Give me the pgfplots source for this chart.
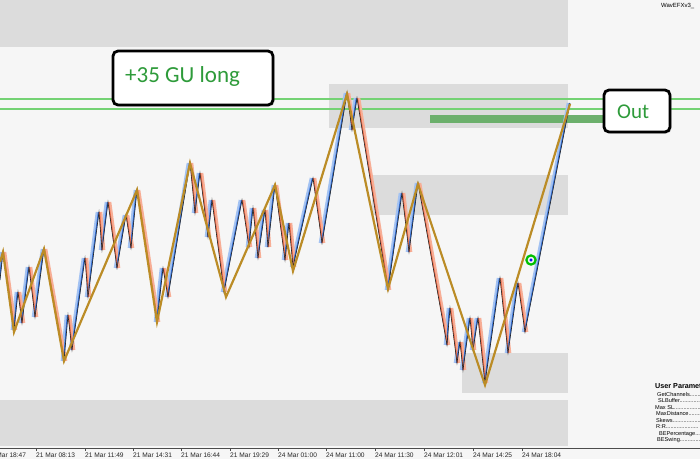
\documentclass[border=0pt]{standalone}
\usepackage{pgfplots}
\pgfplotsset{compat=1.18}
\usepackage{pgfplotstable}
\usepackage{fontspec}
\setmainfont{Liberation Sans}
\newfontfamily\calib{Carlito}
\usetikzlibrary{shadows}
\definecolor{bgc}{HTML}{F6F6F6}
\definecolor{boxc}{HTML}{DCDCDC}
\definecolor{lvlgreen}{HTML}{74D274}
\definecolor{gbar}{HTML}{6CB06C}
\definecolor{goldc}{HTML}{BB8C26}
\definecolor{bluec}{HTML}{3470D8}
\definecolor{lblue}{HTML}{A3C2F2}
\definecolor{redc}{HTML}{F0704E}
\definecolor{lred}{HTML}{F7AE96}
\definecolor{txtg}{HTML}{2E9B3A}

\pgfplotstableread[row sep=\\]{x y\\
0 280\\ 3 252\\ 3 inf\\ 14 330\\ 18 292\\ 18 inf\\ 22 323\\ 29 267\\ 29 inf\\
35 317\\ 44 249\\ 44 inf\\ 64 361\\ 68 315\\ 68 inf\\ 72 350\\ 85 258\\ 85 inf\\
88 297\\ 99 212\\ 99 inf\\ 102 250\\ 108 202\\ 108 inf\\ 117 268\\ 126 215\\ 126 inf\\
131 248\\ 137 190\\ 137 inf\\ 157 322\\ 163 268\\ 163 inf\\ 168 297\\ 190 163\\ 190 inf\\
195 213\\ 200 173\\ 200 inf\\ 208 237\\ 212 200\\ 212 inf\\ 224 292\\ 242 200\\ 242 inf\\
249 247\\ 253 208\\ 253 inf\\ 258 258\\ 265 210\\ 265 inf\\ 268 247\\ 275 185\\ 275 inf\\
285 260\\ 289 223\\ 289 inf\\ 293 267\\ 313 178\\ 313 inf\\ 322 243\\ 347 93\\ 347 inf\\
352 130\\ 357 98\\ 357 inf\\ 388 290\\ 402 193\\ 402 inf\\ 409 252\\ 418 183\\ 418 inf\\
447 345\\ 450 308\\ 450 inf\\ 457 363\\ 460 342\\ 460 inf\\ 463 370\\ 470 318\\ 470 inf\\
473 350\\ 478 318\\ 478 inf\\ 485 383\\ 500 278\\ 500 inf\\ 508 353\\ 518 283\\ 518 inf\\
525 332\\ 570 103\\
}\uptab

\pgfplotstableread[row sep=\\]{x y\\
3 252\\ 14 330\\ 14 inf\\ 18 292\\ 22 323\\ 22 inf\\ 29 267\\ 35 317\\ 35 inf\\
44 249\\ 64 361\\ 64 inf\\ 68 315\\ 72 350\\ 72 inf\\ 85 258\\ 88 297\\ 88 inf\\
99 212\\ 102 250\\ 102 inf\\ 108 202\\ 117 268\\ 117 inf\\ 126 215\\ 131 248\\ 131 inf\\
137 190\\ 157 322\\ 157 inf\\ 163 268\\ 168 297\\ 168 inf\\ 190 163\\ 195 213\\ 195 inf\\
200 173\\ 208 237\\ 208 inf\\ 212 200\\ 224 292\\ 224 inf\\ 242 200\\ 249 247\\ 249 inf\\
253 208\\ 258 258\\ 258 inf\\ 265 210\\ 268 247\\ 268 inf\\ 275 185\\ 285 260\\ 285 inf\\
289 223\\ 293 267\\ 293 inf\\ 313 178\\ 322 243\\ 322 inf\\ 347 93\\ 352 130\\ 352 inf\\
357 98\\ 388 290\\ 388 inf\\ 402 193\\ 409 252\\ 409 inf\\ 418 183\\ 447 345\\ 447 inf\\
450 308\\ 457 363\\ 457 inf\\ 460 342\\ 463 370\\ 463 inf\\ 470 318\\ 473 350\\ 473 inf\\
478 318\\ 485 383\\ 485 inf\\ 500 278\\ 508 353\\ 508 inf\\ 518 283\\ 525 332\\
}\dntab

\pgfplotstableread[row sep=\\]{x y\\
0 280\\ 3 252\\ 14 330\\ 18 292\\ 22 323\\ 29 267\\ 35 317\\ 44 249\\ 64 361\\ 68 315\\
72 350\\ 85 258\\ 88 297\\ 99 212\\ 102 250\\ 108 202\\ 117 268\\ 126 215\\ 131 248\\
137 190\\ 157 322\\ 163 268\\ 168 297\\ 190 163\\ 195 213\\ 200 173\\ 208 237\\ 212 200\\
224 292\\ 242 200\\ 249 247\\ 253 208\\ 258 258\\ 265 210\\ 268 247\\ 275 185\\ 285 260\\
289 223\\ 293 267\\ 313 178\\ 322 243\\ 347 93\\ 352 130\\ 357 98\\ 388 290\\ 402 193\\
409 252\\ 418 183\\ 447 345\\ 450 308\\ 457 363\\ 460 342\\ 463 370\\ 470 318\\ 473 350\\
478 318\\ 485 383\\ 500 278\\ 508 353\\ 518 283\\ 525 332\\ 570 103\\
}\fintab

\pgfplotstableread[row sep=\\]{x y\\
0 262\\ 3 252\\ 14 332\\ 44 249\\ 64 361\\ 137 190\\ 157 322\\ 190 163\\ 226 297\\
275 185\\ 293 271\\ 347 94\\ 388 289\\ 418 184\\ 485 385\\ 570 104\\
}\goldtab

\begin{document}
\begin{tikzpicture}
\begin{axis}[scale only axis, width=700pt, height=459pt,
  xmin=0, xmax=700, ymin=0, ymax=459, y dir=reverse,
  hide axis, unbounded coords=jump, clip=true]
% background
\addplot[fill=bgc, draw=none] coordinates {(0,0)(700,0)(700,459)(0,459)} -- cycle;
% gray zones
\addplot[fill=boxc, draw=none] coordinates {(0,0)(568,0)(568,47)(0,47)} -- cycle;
\addplot[fill=boxc, draw=none] coordinates {(329,84)(568,84)(568,128)(329,128)} -- cycle;
\addplot[fill=boxc, draw=none] coordinates {(372,175)(568,175)(568,215)(372,215)} -- cycle;
\addplot[fill=boxc, draw=none] coordinates {(462,353)(568,353)(568,393)(462,393)} -- cycle;
\addplot[fill=boxc, draw=none] coordinates {(0,400)(568,400)(568,446)(0,446)} -- cycle;
% green levels
\addplot[draw=lvlgreen, line width=1.1pt] coordinates {(0,99)(700,99)};
\addplot[draw=lvlgreen, line width=1.1pt] coordinates {(0,109)(700,109)};
\addplot[fill=gbar, draw=none] coordinates {(430,115)(605,115)(605,123)(430,123)} -- cycle;
% swings
\addplot[lblue, line width=3pt, xshift=-1.8pt] table[x=x,y=y] {\uptab};
\addplot[lred, line width=3pt, xshift=1.8pt] table[x=x,y=y] {\dntab};
\addplot[bluec, line width=1.3pt, xshift=-0.5pt] table[x=x,y=y] {\uptab};
\addplot[redc, line width=1.3pt, xshift=0.5pt] table[x=x,y=y] {\dntab};
\addplot[black!85, line width=0.6pt] table[x=x,y=y] {\fintab};
\addplot[goldc, line width=2.2pt] table[x=x,y=y] {\goldtab};
% entry marker
\addplot[only marks, mark=o, mark size=4.6pt, mark options={draw=green!75!black, line width=2.2pt}] coordinates {(531,260)};
\addplot[only marks, mark=*, mark size=1.4pt, mark options={fill=blue, draw=blue}] coordinates {(531,260)};
% time axis
\addplot[black!70, line width=0.8pt] coordinates {(0,448)(700,448)};
\addplot[black!70, line width=0.6pt] coordinates {(36,448)(36,451)(36,inf)(85,448)(85,451)(85,inf)(133,448)(133,451)(133,inf)(181,448)(181,451)(181,inf)(230,448)(230,451)(230,inf)(278,448)(278,451)(278,inf)(326,448)(326,451)(326,inf)(375,448)(375,451)(375,inf)(424,448)(424,451)(424,inf)(473,448)(473,451)(473,inf)(522,448)(522,451)};
\foreach \xx/\lab in {-13/20 Mar 18:47, 36/21 Mar 08:13, 85/21 Mar 11:49, 133/21 Mar 14:31, 181/21 Mar 16:44, 230/21 Mar 19:29, 278/24 Mar 01:00, 326/24 Mar 11:00, 375/24 Mar 11:30, 424/24 Mar 12:01, 473/24 Mar 14:25, 522/24 Mar 18:04}{
  \edef\temp{\noexpand\node[anchor=base west, inner sep=0pt, font=\noexpand\fontsize{6.6}{7}\noexpand\selectfont, text=black!85] at (axis cs:\xx,457.5) {\lab};}
  \temp
}
% annotation boxes
\node[draw=black, line width=2.8pt, rounded corners=5pt, fill=white, minimum width=160pt, minimum height=54pt, inner sep=0pt,
  drop shadow={shadow xshift=1.5pt, shadow yshift=-1.5pt, opacity=0.35}] at (axis cs:193,78) {};
\node[anchor=base west, inner sep=0pt, text=txtg, font=\calib\fontsize{23}{25}\selectfont] at (axis cs:125,82) {+35 GU long};
\node[draw=black, line width=2.8pt, rounded corners=5pt, fill=white, minimum width=66pt, minimum height=42pt, inner sep=0pt,
  drop shadow={shadow xshift=1.5pt, shadow yshift=-1.5pt, opacity=0.35}] at (axis cs:637,111) {};
\node[anchor=base west, inner sep=0pt, text=txtg, font=\calib\fontsize{21}{24}\selectfont] at (axis cs:617,118) {Out};
% corner label
\node[anchor=base west, inner sep=0pt, font=\fontsize{6}{7}\selectfont] at (axis cs:661,7) {WavEFXv3\_};
% parameter panel
\node[anchor=base west, inner sep=0pt, font=\bfseries\fontsize{7.2}{8}\selectfont] at (axis cs:655,388) {User Parameters};
\node[anchor=base west, inner sep=0pt, font=\fontsize{5.6}{6}\selectfont] at (axis cs:657,396) {GetChannels..........};
\node[anchor=base west, inner sep=0pt, font=\fontsize{5.6}{6}\selectfont] at (axis cs:658,402.5) {SLBuffer..............};
\node[anchor=base west, inner sep=0pt, font=\fontsize{5.6}{6}\selectfont] at (axis cs:655,409) {Max SL.................};
\node[anchor=base west, inner sep=0pt, font=\fontsize{5.6}{6}\selectfont] at (axis cs:656,415.5) {MaxDistance..........};
\node[anchor=base west, inner sep=0pt, font=\fontsize{5.6}{6}\selectfont] at (axis cs:656,422) {Skews..................};
\node[anchor=base west, inner sep=0pt, font=\fontsize{5.6}{6}\selectfont] at (axis cs:656,428.5) {R:R.....................};
\node[anchor=base west, inner sep=0pt, font=\fontsize{5.6}{6}\selectfont] at (axis cs:659,435) {BEPercentage.........};
\node[anchor=base west, inner sep=0pt, font=\fontsize{5.6}{6}\selectfont] at (axis cs:657,441.5) {BESwing...............};
\coordinate (bl) at (axis cs:0,459);
\coordinate (tr) at (axis cs:700,0);
\end{axis}
\pgfresetboundingbox
\path[use as bounding box] (bl) rectangle (tr);
\end{tikzpicture}
\end{document}
